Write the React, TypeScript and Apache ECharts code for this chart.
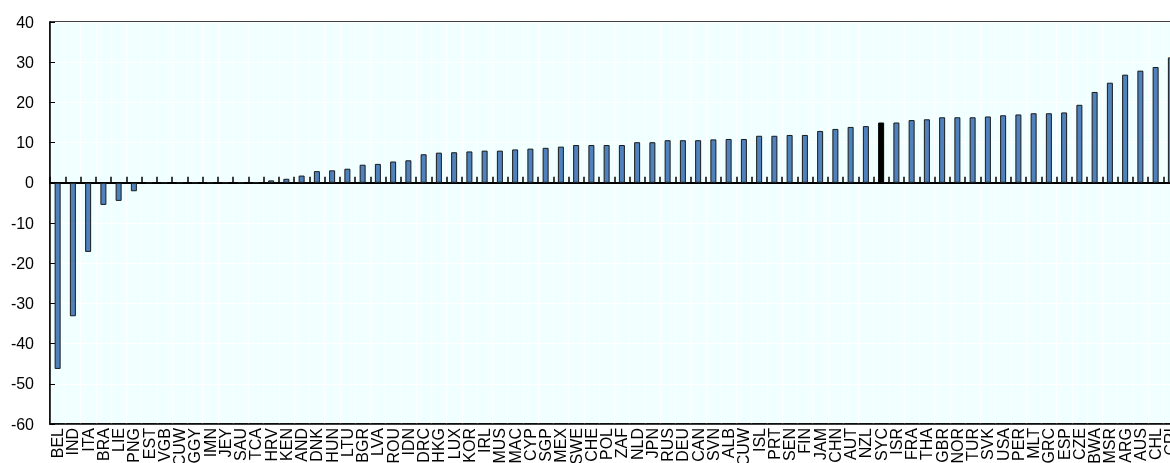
import React, { useEffect, useRef } from "react";
import * as echarts from "echarts";

const categories = [
  "BEL", "IND", "ITA", "BRA", "LIE", "PNG", "EST", "VGB", "CUW", "GGY", "IMN", "JEY", "SAU", "TCA",
  "HRV", "KEN", "AND", "DNK", "HUN", "LTU", "BGR", "LVA", "ROU", "IDN", "DRC", "HKG", "LUX", "KOR",
  "IRL", "MUS", "MAC", "CYP", "SGP", "MEX", "SWE", "CHE", "POL", "ZAF", "NLD", "JPN", "RUS", "DEU",
  "CAN", "SVN", "ALB", "CUW", "ISL", "PRT", "SEN", "FIN", "JAM", "CHN", "AUT", "NZL", "SYC", "ISR",
  "FRA", "THA", "GBR", "NOR", "TUR", "SVK", "USA", "PER", "MLT", "GRC", "ESP", "CZE", "BWA", "MSR",
  "ARG", "AUS", "CHL", "CRI",
];

const values = [
  -46.3, -33.2, -17.2, -5.5, -4.5, -2.1, 0, 0, 0, 0, 0, 0, 0, 0,
  0.6, 1.0, 1.8, 2.9, 3.1, 3.5, 4.5, 4.7, 5.3, 5.6, 7.1, 7.5, 7.6, 7.8,
  8.0, 8.0, 8.3, 8.5, 8.7, 9.0, 9.4, 9.4, 9.4, 9.4, 10.1, 10.1, 10.6, 10.6,
  10.6, 10.8, 10.9, 10.9, 11.7, 11.7, 11.9, 11.9, 12.9, 13.4, 13.9, 14.1, 15.0, 15.0,
  15.6, 15.8, 16.3, 16.3, 16.3, 16.5, 16.8, 17.0, 17.3, 17.3, 17.5, 19.4, 22.6, 24.9,
  26.9, 27.9, 28.8, 31.2,
];

const highlighted = ["SYC"];

const yMin = -60;
const yMax = 40;
const yStep = 10;

export default function App() {
  const ref = useRef<HTMLDivElement>(null);

  useEffect(() => {
    if (!ref.current) return;
    const chart = echarts.init(ref.current, null, { renderer: "svg" });
    const font = "Arial, 'Liberation Sans', sans-serif";
    const band = 15.25;
    chart.setOption({
      animation: false,
      grid: {
        left: 50,
        top: 22,
        bottom: 39,
        width: band * categories.length,
        outerBoundsMode: "none",
        containLabel: false,
        show: true,
        backgroundColor: "#F0FFFF",
        borderColor: "#000",
        borderWidth: 1.5,
      },
      xAxis: [
        {
          type: "category",
          data: categories,
          position: "bottom",
          axisLine: { onZero: false, show: true, lineStyle: { color: "#000", width: 1.5 } },
          axisTick: { show: false },
          axisLabel: {
            interval: 0,
            rotate: 90,
            margin: 4,
            fontSize: 16,
            color: "#000",
            fontFamily: font,
          },
          splitLine: { show: true, interval: 0, lineStyle: { color: "#ffffff", width: 1.2 } },
        },
        {
          type: "category",
          data: categories,
          position: "top",
          axisLine: { onZero: true, show: true, lineStyle: { color: "#000", width: 2 } },
          axisTick: { show: true, interval: 0, inside: false, length: 6, lineStyle: { color: "#000", width: 1.5 } },
          axisLabel: { show: false },
          splitLine: { show: false },
        },
      ],
      yAxis: {
        type: "value",
        min: yMin,
        max: yMax,
        interval: yStep,
        axisLine: { show: true, lineStyle: { color: "#000", width: 1.5 } },
        axisTick: { show: true, inside: true, length: 5, lineStyle: { color: "#000" } },
        axisLabel: { color: "#000", fontSize: 16, fontFamily: font, margin: 16 },
        splitLine: { show: true, lineStyle: { color: "#ffffff", width: 1.2 } },
      },
      series: [
        {
          type: "bar",
          xAxisIndex: 0,
          barWidth: 6,
          data: values.map((v, i) => ({
            value: v,
            itemStyle: highlighted.includes(categories[i])
              ? { color: "#000000", borderColor: "#000000", borderWidth: 1 }
              : { color: "#4F81BD", borderColor: "#1a1a1a", borderWidth: 1 },
          })),
        },
      ],
    });
    return () => chart.dispose();
  }, []);

  return (
    <div style={{ position: "fixed", left: 0, top: 0, width: 1170, height: 463, overflow: "hidden" }}>
      <div ref={ref} style={{ width: 1200, height: 463 }} />
    </div>
  );
}
